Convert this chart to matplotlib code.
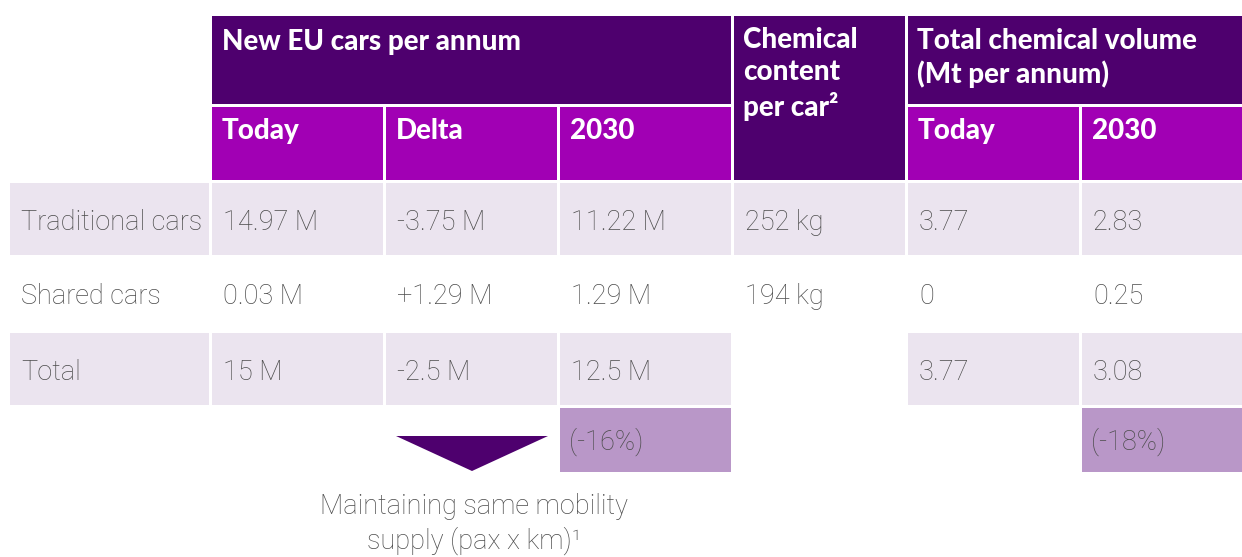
import matplotlib.pyplot as plt
from matplotlib.patches import Rectangle, Polygon

# table contents
row_labels = ['Traditional cars', 'Shared cars', 'Total']
cars_today = ['14.97 M', '0.03 M', '15 M']
cars_delta = ['-3.75 M', '+1.29 M', '-2.5 M']
cars_2030 = ['11.22 M', '1.29 M', '12.5 M']
content_per_car = ['252 kg', '194 kg', '']
volume_today = ['3.77', '0', '3.77']
volume_2030 = ['2.83', '0.25', '3.08']
change_cars = '(-16%)'
change_volume = '(-18%)'

group_headers = ['New EU cars per annum', 'Chemical\ncontent\nper car²',
                 'Total chemical volume\n(Mt per annum)']
sub_headers = ['Today', 'Delta', '2030', None, 'Today', '2030']
footnote = 'Maintaining same mobility\nsupply (pax x km)¹'

DARK = '#4e006e'
MAGENTA = '#a100b4'
LIGHT = '#ebe4ef'
PCT = '#b997c8'
GREY = '#4c4c4c'

col_x = [10, 212, 386, 560, 734, 908, 1082, 1245]
row_y = [16, 107, 183, 258, 333, 408, 475]
gap = 3

fig = plt.figure(figsize=(12.42, 5.57), dpi=100)
ax = fig.add_axes([0, 0, 1, 1])
ax.set_xlim(0, 1242)
ax.set_ylim(557, 0)
ax.axis('off')

body = dict(family='Roboto', weight='light', color=GREY, fontsize=19.5, va='center')
head = dict(family='Lato', weight='black', color='white', fontsize=20, va='center')


def cell(c0, c1, r0, r1, color):
    x0, x1 = col_x[c0], col_x[c1] - gap
    y0, y1 = row_y[r0], row_y[r1] - gap
    ax.add_patch(Rectangle((x0, y0), x1 - x0, y1 - y0, facecolor=color, lw=0))


# header blocks
cell(1, 4, 0, 1, DARK)
cell(4, 5, 0, 2, DARK)
cell(5, 7, 0, 1, DARK)
for i, h in enumerate(sub_headers):
    if h is None:
        continue
    cell(i + 1, i + 2, 1, 2, MAGENTA)
    ax.text(col_x[i + 1] + 10, 131, h, **head)

ax.text(col_x[1] + 10, 42, group_headers[0], **head)
ax.text(col_x[4] + 9, 74, group_headers[1], linespacing=1.3, **head)
ax.text(col_x[5] + 9, 58, group_headers[2], linespacing=1.3, **head)

# body rows
columns = [row_labels, cars_today, cars_delta, cars_2030,
           content_per_car, volume_today, volume_2030]
for r in range(3):
    yc = (row_y[r + 2] + row_y[r + 3] - gap) / 2 + 3
    for c, values in enumerate(columns):
        text = values[r]
        if r != 1 and text != '':
            cell(c, c + 1, r + 2, r + 3, LIGHT)
        ax.text(col_x[c] + 11, yc, text, **body)

# change percentages
for c, txt in [(3, change_cars), (6, change_volume)]:
    cell(c, c + 1, 5, 6, PCT)
    ax.text(col_x[c] + 9, 442, txt, **body)

# arrow and note
ax.add_patch(Polygon([(396, 436), (548, 436), (472, 471)], closed=True,
                     facecolor=DARK, lw=0))
ax.text(474, 524, footnote, ha='center', linespacing=1.3, **body)

fig.savefig('out.png', dpi=100)
